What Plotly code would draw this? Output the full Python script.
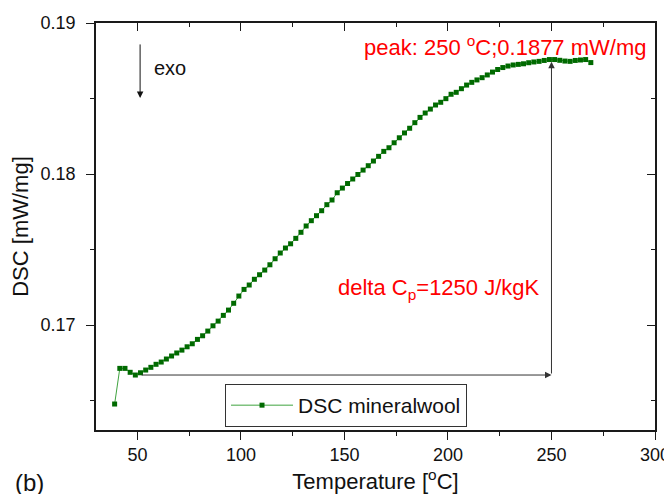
import plotly.graph_objects as go

temperature = [39 + 2.5 * i for i in range(93)]
dsc = [
    0.16477, 0.16713, 0.16713, 0.16687, 0.16669, 0.16684, 0.16702, 0.16720, 0.16740, 0.16755,
    0.16775, 0.16795, 0.16815, 0.16834, 0.16856, 0.16876, 0.16905, 0.16929, 0.16960, 0.16995,
    0.17026, 0.17064, 0.17099, 0.17144, 0.17192, 0.17236, 0.17265, 0.17303, 0.17333, 0.17364,
    0.17399, 0.17439, 0.17477, 0.17510, 0.17538, 0.17574, 0.17614, 0.17656, 0.17691, 0.17724,
    0.17757, 0.17797, 0.17828, 0.17876, 0.17907, 0.17937, 0.17967, 0.17997, 0.18026, 0.18055,
    0.18086, 0.18117, 0.18150, 0.18174, 0.18207, 0.18240, 0.18272, 0.18303, 0.18340, 0.18375,
    0.18404, 0.18430, 0.18457, 0.18475, 0.18499, 0.18528, 0.18541, 0.18565, 0.18589, 0.18607,
    0.18623, 0.18638, 0.18656, 0.18675, 0.18692, 0.18705, 0.18715, 0.18722, 0.18726, 0.18730,
    0.18737, 0.18742, 0.18746, 0.18752, 0.18758, 0.18758, 0.18753, 0.18748, 0.18746, 0.18752,
    0.18755, 0.18758, 0.18738,
]
x_ticks = [50, 100, 150, 200, 250, 300]
y_ticks = [0.17, 0.18, 0.19]
y_tick_labels = ["0.17", "0.18", "0.19"]
x_range = [30, 300]
y_range = [0.16305, 0.19]

baseline_start = [51.3, 0.16669]
peak_point = [250, 0.18744]
exo_arrow = [51.3, 0.18868, 0.18503]

FONT = "Liberation Sans, Arial, sans-serif"
AX = "#1a1a1a"

fig = go.Figure()
fig.add_trace(go.Scatter(
    x=temperature, y=dsc, mode="lines+markers", name="DSC mineralwool",
    line=dict(color="#3fa33f", width=1),
    marker=dict(symbol="square", size=5, color="#006a00"),
))
fig.add_trace(go.Scatter(x=[None], y=[None], xaxis="x2", yaxis="y2",
                         showlegend=False, hoverinfo="skip"))

common = dict(showgrid=False, zeroline=False, showline=True, linecolor=AX,
              linewidth=1.6, mirror=True, tickcolor=AX, tickwidth=1.2,
              tickfont=dict(family=FONT, size=18, color="#111"))
fig.update_layout(
    width=664, height=486,
    margin=dict(l=88, r=17, t=15, b=64),
    paper_bgcolor="white", plot_bgcolor="white",
    font=dict(family=FONT, color="#111"),
    xaxis=dict(range=x_range, tickvals=x_ticks, ticks="outside", ticklen=8,
               minor=dict(ticks="outside", dtick=25, ticklen=4, tickcolor=AX),
               title=dict(text="Temperature [<sup>o</sup>C]", font=dict(family=FONT, size=22), standoff=19),
               automargin=False, **common),
    yaxis=dict(range=y_range, tickvals=y_ticks, ticktext=y_tick_labels, ticks="outside", ticklen=8,
               minor=dict(ticks="outside", dtick=0.005, ticklen=4, tickcolor=AX),
               ticklabelstandoff=7,
               title=dict(text="DSC [mW/mg]", font=dict(family=FONT, size=22), standoff=6),
               automargin=False, **common),
    xaxis2=dict(range=x_range, overlaying="x", side="top", tickvals=x_ticks, ticks="inside",
                ticklen=8, showticklabels=False, showgrid=False, zeroline=False, tickcolor=AX,
                tickwidth=1.2, minor=dict(ticks="inside", dtick=25, ticklen=4, tickcolor=AX)),
    yaxis2=dict(range=y_range, overlaying="y", side="right", tickvals=y_ticks, ticks="inside",
                ticklen=8, showticklabels=False, showgrid=False, zeroline=False, tickcolor=AX,
                tickwidth=1.2, minor=dict(ticks="inside", dtick=0.005, ticklen=4, tickcolor=AX)),
    legend=dict(x=0.2308, y=0.113, xanchor="left", yanchor="top",
                bordercolor="#333", borderwidth=1, bgcolor="white",
                font=dict(family=FONT, size=21, color="#111"), itemwidth=62),
)

# baseline arrow (horizontal) and peak arrow (vertical)
fig.add_annotation(x=peak_point[0], y=baseline_start[1], ax=baseline_start[0], ay=baseline_start[1],
                   xref="x", yref="y", axref="x", ayref="y", text="", showarrow=True,
                   arrowhead=2, arrowsize=1.3, arrowwidth=1, arrowcolor="#333")
fig.add_annotation(x=peak_point[0], y=peak_point[1], ax=peak_point[0], ay=baseline_start[1],
                   xref="x", yref="y", axref="x", ayref="y", text="", showarrow=True,
                   arrowhead=2, arrowsize=1.3, arrowwidth=1, arrowcolor="#333")
# exo arrow
fig.add_annotation(x=exo_arrow[0], y=exo_arrow[2], ax=exo_arrow[0], ay=exo_arrow[1],
                   xref="x", yref="y", axref="x", ayref="y", text="", showarrow=True,
                   arrowhead=2, arrowsize=1.3, arrowwidth=1, arrowcolor="#111")
fig.add_annotation(x=57, y=0.18702, xref="x", yref="y", text="exo", showarrow=False,
                   xanchor="left", yanchor="middle", font=dict(family=FONT, size=20, color="#111"))
fig.add_annotation(x=227.6, y=0.18848, xref="x", yref="y",
                   text="peak: 250 <sup>o</sup>C;0.1877 mW/mg", showarrow=False,
                   xanchor="center", yanchor="middle", font=dict(family=FONT, size=22, color="#ff0000"))
fig.add_annotation(x=145.9, y=0.17238, xref="x", yref="y",
                   text="delta C<sub>p</sub>=1250 J/kgK", showarrow=False,
                   xanchor="left", yanchor="middle", font=dict(family=FONT, size=22, color="#ff0000"))
fig.add_annotation(x=-0.148, y=-0.128, xref="paper", yref="paper", text="(b)", showarrow=False,
                   xanchor="left", yanchor="middle", font=dict(family=FONT, size=24, color="#111"))

fig.write_html("out.html")
